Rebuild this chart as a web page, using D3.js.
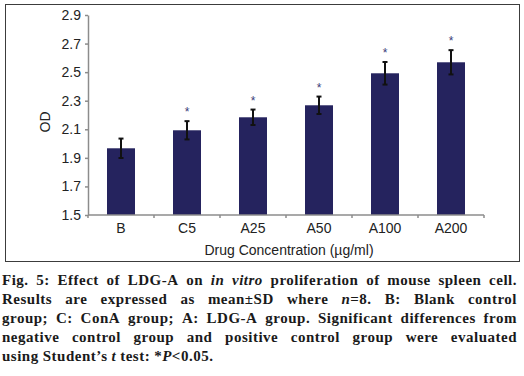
<!DOCTYPE html>
<html>
<head>
<meta charset="utf-8">
<script src="https://cdn.jsdelivr.net/npm/d3@7"></script>
<style>
  html, body { margin: 0; padding: 0; background: #fff; }
  svg { display: block; }
</style>
</head>
<body>
<div id="graphicContainer"></div>
<script>

const categories = ["B", "C5", "A25", "A50", "A100", "A200"]
const means = [1.967, 2.093, 2.184, 2.268, 2.492, 2.569]
const sds = [0.068, 0.064, 0.054, 0.061, 0.079, 0.085]
const significant = [false, true, true, true, true, true]
const yTicks = [1.5, 1.7, 1.9, 2.1, 2.3, 2.5, 2.7, 2.9]

// caption, {..} marks italic
const captionLines = [
  "Fig. 5: Effect of LDG-A on {in} {vitro} proliferation of mouse spleen cell.",
  "Results are expressed as mean±SD where {n}=8. B: Blank control",
  "group; C: ConA group; A: LDG-A group. Significant differences from",
  "negative control group and positive control group were evaluated",
  "using Student’s {t} test: *{P}<0.05."
]

const data = categories.map((c, i) => ({ cat: c, mean: means[i], sd: sds[i], sig: significant[i] }))

const svg = d3.select("#graphicContainer").append("svg")
  .attr("width", 524)
  .attr("height", 376)

// frame around the chart
svg.append("rect")
  .attr("x", 5.5).attr("y", 4.5)
  .attr("width", 514).attr("height", 257)
  .attr("fill", "none")
  .attr("stroke", "#3c3c3c")
  .attr("stroke-width", 1)

const x = d3.scaleBand()
  .domain(categories)
  .range([88, 484])
  .paddingInner(0.576)
  .paddingOuter(0.288)

const y = d3.scaleLinear()
  .domain([1.5, 2.9])
  .range([215, 15])

const axisColor = "#8c8c8c"
const font = "'Liberation Sans', Arial, sans-serif"

// bars
svg.append("g")
  .selectAll("rect")
  .data(data)
  .enter()
  .append("rect")
  .attr("x", d => x(d.cat))
  .attr("y", d => y(d.mean))
  .attr("width", x.bandwidth())
  .attr("height", d => y(1.5) - y(d.mean))
  .attr("fill", "#25235e")

// error bars
const err = svg.append("g")
  .attr("stroke", "#111")
  .attr("stroke-width", 2)

data.forEach(d => {
  const cx = x(d.cat) + x.bandwidth() / 2
  err.append("line")
    .attr("x1", cx).attr("x2", cx)
    .attr("y1", y(d.mean + d.sd)).attr("y2", y(d.mean - d.sd))
  err.append("line")
    .attr("x1", cx - 2.5).attr("x2", cx + 2.5)
    .attr("y1", y(d.mean + d.sd)).attr("y2", y(d.mean + d.sd))
  err.append("line")
    .attr("x1", cx - 2.5).attr("x2", cx + 2.5)
    .attr("y1", y(d.mean - d.sd)).attr("y2", y(d.mean - d.sd))
})

// significance stars
svg.append("g")
  .selectAll("text")
  .data(data.filter(d => d.sig))
  .enter()
  .append("text")
  .attr("x", d => x(d.cat) + x.bandwidth() / 2)
  .attr("y", d => y(d.mean + d.sd) - 5)
  .attr("text-anchor", "middle")
  .attr("font-family", font)
  .attr("font-size", 12)
  .attr("fill", "#3a3a7a")
  .text("*")

// y axis
const yAxis = svg.append("g")
  .attr("transform", "translate(88,0)")
  .call(d3.axisLeft(y).tickValues(yTicks).tickFormat(d3.format(".1f")).tickSize(3).tickSizeOuter(0))

yAxis.select(".domain").attr("stroke", axisColor).attr("stroke-width", 1.5)
yAxis.selectAll(".tick line").attr("stroke", axisColor).attr("stroke-width", 1.5)
yAxis.selectAll(".tick text")
  .attr("x", -7)
  .attr("font-family", font)
  .attr("font-size", 14)
  .attr("fill", "#222")

// x axis: ticks sit on the band edges
const xAxis = svg.append("g")
  .attr("transform", "translate(0,215)")

xAxis.append("line")
  .attr("x1", 88).attr("x2", 484)
  .attr("stroke", axisColor).attr("stroke-width", 1.5)

const edges = d3.range(categories.length + 1).map(i => x.range()[0] + i * x.step())

xAxis.selectAll(".edge")
  .data(edges)
  .enter()
  .append("line")
  .attr("class", "edge")
  .attr("x1", d => d).attr("x2", d => d)
  .attr("y1", 0).attr("y2", 3)
  .attr("stroke", axisColor).attr("stroke-width", 1.5)

xAxis.selectAll(".cat")
  .data(categories)
  .enter()
  .append("text")
  .attr("class", "cat")
  .attr("x", d => x(d) + x.bandwidth() / 2)
  .attr("y", 17.5)
  .attr("text-anchor", "middle")
  .attr("font-family", font)
  .attr("font-size", 14)
  .attr("fill", "#222")
  .text(d => d)

svg.append("text")
  .attr("x", 289)
  .attr("y", 255)
  .attr("text-anchor", "middle")
  .attr("font-family", font)
  .attr("font-size", 14)
  .attr("fill", "#222")
  .text("Drug Concentration (µg/ml)")

svg.append("text")
  .attr("transform", "translate(50,122) rotate(-90)")
  .attr("text-anchor", "middle")
  .attr("font-family", font)
  .attr("font-size", 14)
  .attr("fill", "#222")
  .text("OD")

// caption, justified word by word
const capLeft = 2
const capRight = 517
const capBase = [284.5, 303.5, 322.5, 341.5, 361]

const caption = svg.append("g")
  .attr("font-family", "'Liberation Serif', 'Times New Roman', serif")
  .attr("font-size", 15)
  .attr("font-weight", "bold")
  .attr("letter-spacing", 0.5)
  .attr("fill", "#1a1a1a")

captionLines.forEach((line, li) => {
  const words = line.split(" ")
  const nodes = words.map(w => {
    const t = caption.append("text").attr("y", capBase[li])
    w.split(/(\{[^}]*\})/).filter(s => s.length).forEach(seg => {
      const it = seg.startsWith("{")
      t.append("tspan")
        .attr("font-style", it ? "italic" : null)
        .text(it ? seg.slice(1, -1) : seg)
    })
    return t
  })
  const widths = nodes.map(n => n.node().getComputedTextLength())
  const total = d3.sum(widths)
  const last = li === captionLines.length - 1
  const gap = last ? 4 : (capRight - capLeft - total) / (words.length - 1)
  let cx = capLeft
  nodes.forEach((n, i) => {
    n.attr("x", cx)
    cx += widths[i] + gap
  })
})

</script>
</body>
</html>
